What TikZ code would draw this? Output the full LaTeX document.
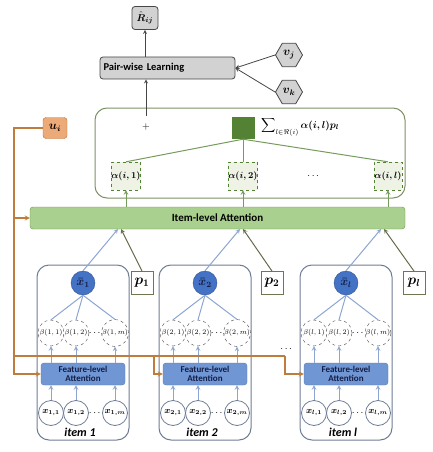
\documentclass[tikz,border=0pt]{standalone}
\usepackage{amsmath}
\usepackage{amssymb}
\usepackage{fontspec}
\setsansfont{Carlito}
\usepackage{tikz}
\usetikzlibrary{shapes.geometric}

\definecolor{boxgray}{RGB}{70,70,70}
\definecolor{fillgray}{RGB}{210,210,210}
\definecolor{framegreen}{RGB}{125,145,100}
\definecolor{bargreen}{RGB}{169,208,142}
\definecolor{bardraw}{RGB}{110,145,75}
\definecolor{darkgreen}{RGB}{84,130,53}
\definecolor{alphafill}{RGB}{238,243,230}
\definecolor{pdraw}{RGB}{110,120,80}
\definecolor{uifill}{RGB}{235,170,120}
\definecolor{uidraw}{RGB}{190,110,50}
\definecolor{orangeline}{RGB}{190,125,60}
\definecolor{itemdraw}{RGB}{110,125,150}
\definecolor{itemarrow}{RGB}{140,165,210}
\definecolor{xbarfill}{RGB}{68,114,196}
\definecolor{xbardraw}{RGB}{50,85,150}
\definecolor{fafill}{RGB}{112,150,212}
\definecolor{navytext}{RGB}{20,30,70}

\tikzset{
  graybox/.style={draw=boxgray, fill=fillgray, rounded corners=3pt, line width=0.8pt, inner sep=0pt},
  hexa/.style={regular polygon, regular polygon sides=6, draw=boxgray, fill=fillgray,
    minimum size=27pt, inner sep=0pt, line width=0.8pt, font=\large},
  alphabox/.style={draw=darkgreen, dashed, fill=alphafill, minimum width=28pt,
    minimum height=28pt, inner sep=0pt, font=\small},
  pbox/.style={draw=pdraw, fill=white, minimum width=22pt, minimum height=23pt, inner sep=0pt,
    line width=0.8pt, font=\Large},
  xbarnode/.style={circle, draw=xbardraw, fill=xbarfill, minimum size=24pt, inner sep=0pt,
    text=navytext, font=\large},
  betanode/.style={circle, draw=boxgray, dashed, fill=white, minimum size=26pt, inner sep=0pt,
    font=\fontsize{7}{8}\selectfont},
  xnode/.style={circle, draw=itemdraw, fill=white, minimum size=25pt, inner sep=0pt,
    line width=0.8pt, font=\small},
  fanode/.style={draw=fafill!80!black, fill=fafill, rounded corners=3pt, minimum width=84pt,
    minimum height=22pt, inner sep=0pt, align=center, text=navytext,
    font=\sffamily\bfseries\small},
  itemline/.style={draw=itemarrow, line width=1pt},
  greenline/.style={draw=darkgreen!80, line width=1pt},
  pline/.style={draw=pdraw!90!black, line width=1pt},
  uline/.style={draw=orangeline, line width=1.2pt}
}

\begin{document}
\begin{tikzpicture}[x=1pt,y=-1pt,>=stealth]
  \useasboundingbox (0,0) rectangle (432,452);

  % top: prediction and pair-wise learning
  \node[graybox, minimum width=26pt, minimum height=23pt] (Rhat) at (145,18) {$\hat{\boldsymbol{R}}_{\boldsymbol{ij}}$};
  \node[graybox, minimum width=135pt, minimum height=22pt, text width=128pt, align=left,
    font=\sffamily\bfseries\fontsize{10.5}{12}\selectfont] (pair) at (167.5,68) {Pair-wise Learning};
  \node[hexa] (vj) at (289,55) {$\boldsymbol{v_j}$};
  \node[hexa] (vk) at (289,92) {$\boldsymbol{v_k}$};
  \draw[->, draw=boxgray, line width=0.8pt] (Rhat.south |- pair.north) -- (Rhat.south);
  \draw[->, draw=boxgray, line width=0.8pt] (vj.west) -- (pair.east);
  \draw[->, draw=boxgray, line width=0.8pt] (vk.west) -- (pair.east);

  % aggregation frame
  \draw[draw=framegreen, line width=1pt, rounded corners=12pt] (95,108) rectangle (405,198);
  \node[inner sep=1pt] (plus) at (146,127) {$+$};
  \coordinate (plustop) at (146,116);
  \draw[->, draw=boxgray, line width=0.8pt] (plustop) -- (plustop |- pair.south);
  \node[fill=darkgreen, minimum width=23pt, minimum height=22pt, inner sep=0pt] (sq) at (243,128) {};
  \node[anchor=west, inner sep=0pt] (sumlabel) at (261,127)
    {$\displaystyle\sum\nolimits_{l\in\Re(i)}\boldsymbol{\alpha(i,l)p_l}$};

  \node[alphabox] (a1) at (126,176) {$\boldsymbol{\alpha(i,1)}$};
  \node[alphabox] (a2) at (243,176) {$\boldsymbol{\alpha(i,2)}$};
  \node[alphabox] (a3) at (388,176) {$\boldsymbol{\alpha(i,l)}$};
  \node (adots) at (314,176) {$\cdots$};

  % item-level attention
  \node[draw=bardraw, fill=bargreen, rounded corners=3pt, minimum width=375pt,
    minimum height=22pt, inner sep=0pt, font=\sffamily\bfseries\fontsize{11}{13}\selectfont]
    (bar) at (217.5,218) {Item-level Attention};

  \foreach \i in {1,2,3} {
    \draw[greenline] (a\i.north) -- (sq.south);
    \draw[->, greenline] (a\i.south |- bar.north) -- (a\i.south);
  }

  \node[draw=uidraw, fill=uifill, rounded corners=3pt, minimum width=24pt, minimum height=21pt,
    inner sep=0pt, font=\large] (ui) at (55,128) {$\boldsymbol{u_i}$};

  % items
  \foreach \cx/\n/\pdx [count=\k] in {83/1/59,205/2/67,346/l/68} {
    \draw[draw=itemdraw, line width=1pt, rounded corners=12pt] (\cx-46,265) rectangle (\cx+46,440);
    \node[font=\sffamily\bfseries\itshape\large] (label\k) at (\cx-3,432) {item \n};

    \node[xbarnode] (xbar\k) at (\cx,283) {$\boldsymbol{\bar{x}_{\n}}$};
    \node[pbox] (p\k) at (\cx+\pdx,283) {$\boldsymbol{p_{\n}}$};
    \coordinate (xin\k) at (\cx+35,229);
    \coordinate (pin\k) at (\cx+38,229);
    \draw[->, itemline] (xbar\k.north) -- (xin\k);
    \draw[->, pline] (p\k.north) -- (pin\k);

    \node[betanode] (b\k-1) at (\cx-32,333) {$\beta(\n,1)$};
    \node[betanode] (b\k-2) at (\cx-7,333) {$\beta(\n,2)$};
    \node[betanode] (b\k-m) at (\cx+32,333) {$\beta(\n,m)$};
    \node[inner sep=0pt] (bdots\k) at (\cx+12.5,333) {$\cdots$};

    \node[fanode] (fa\k) at (\cx,374) {Feature-level\\[-2pt]Attention};

    \node[xnode] (x\k-1) at (\cx-32,413) {$\boldsymbol{x_{\n,1}}$};
    \node[xnode] (x\k-2) at (\cx-7,413) {$\boldsymbol{x_{\n,2}}$};
    \node[xnode] (x\k-m) at (\cx+32,413) {$\boldsymbol{x_{\n,m}}$};
    \node[inner sep=0pt] (xdots\k) at (\cx+12.5,413) {$\cdots$};

    \foreach \j in {1,2,m} {
      \draw[itemline] (xbar\k.south) -- (b\k-\j.north);
      \draw[->, itemline] (b\k-\j.south |- fa\k.north) -- (b\k-\j.south);
      \draw[->, itemline] (x\k-\j.north) -- (x\k-\j.north |- fa\k.south);
    }
  }
  \node (itemdots) at (287,349) {$\cdots$};

  % user vector
  \coordinate (ubend) at (14,128);
  \coordinate (ubus) at (14,356);
  \coordinate (drop2) at (154,356);
  \coordinate (drop3) at (285,356);
  \draw[->, uline] (ui.west) -- (ubend) |- (fa1.west);
  \draw[->, uline] (ubend |- bar.west) -- (bar.west);
  \draw[uline] (ubus) -- (drop3);
  \draw[->, uline] (drop2) |- (fa2.west);
  \draw[->, uline] (drop3) |- (fa3.west);
\end{tikzpicture}
\end{document}
